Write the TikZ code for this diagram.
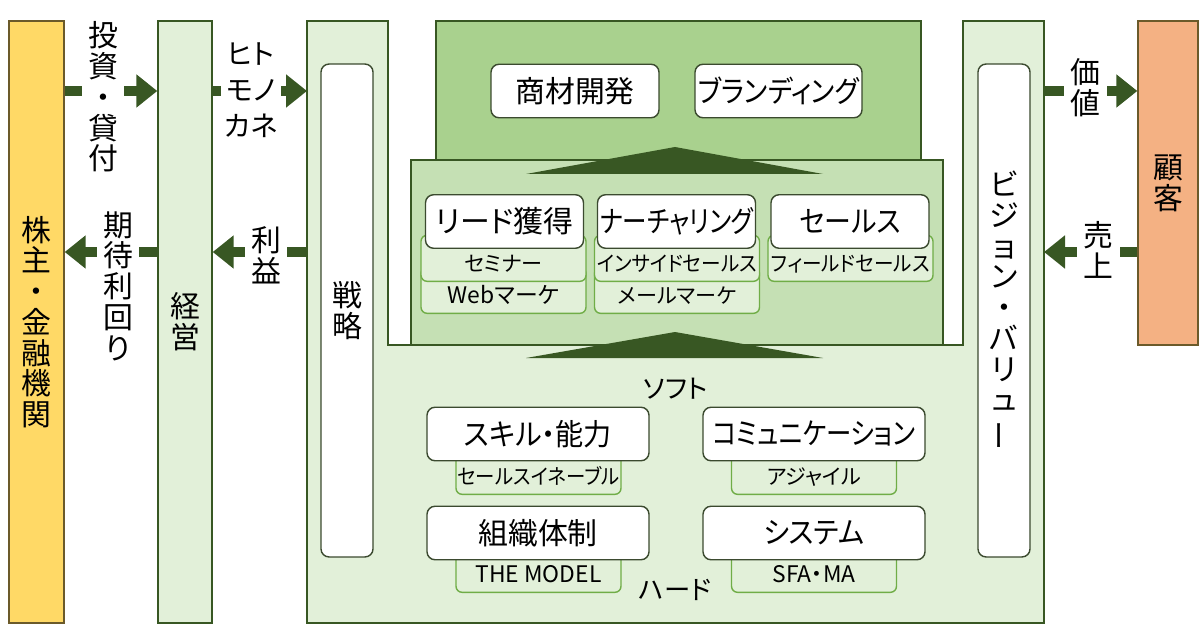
\documentclass[tikz,border=0pt]{standalone}
\usepackage{fontspec}
\setmainfont{Noto Sans CJK JP}[RawFeature=+palt]
\usepackage{graphicx}
\usepackage{tikz}
\usetikzlibrary{arrows.meta}

\definecolor{dkgreen}{HTML}{385723}
\definecolor{ltgreen}{HTML}{E2F0D9}
\definecolor{mdgreen}{HTML}{C5E0B4}
\definecolor{tpgreen}{HTML}{A9D18E}
\definecolor{subline}{HTML}{70AD47}
\definecolor{gold}{HTML}{FFD966}
\definecolor{peach}{HTML}{F4B183}
\definecolor{brownline}{HTML}{6B5A2A}
\definecolor{boxline}{HTML}{3B4A2F}

\newcommand{\bigjp}{\fontsize{17pt}{17.5pt}\selectfont}
\newcommand{\kanajp}{\fontsize{16pt}{20.4pt}\selectfont}
\newcommand{\midjp}{\fontsize{17pt}{18pt}\selectfont}
\newcommand{\smalljp}{\fontsize{12pt}{14pt}\selectfont}
\newcommand{\latinjp}{\fontsize{13pt}{15pt}\selectfont}
\newcommand{\narrowjp}[2]{\scalebox{#1}[1]{#2}}

\begin{document}
\begin{tikzpicture}[x=0.02cm, y=-0.02cm,
  bar/.style={draw=dkgreen, line width=0.8pt, inner sep=0pt, align=center, font=\bigjp},
  pill/.style={draw=boxline, fill=white, line width=0.8pt, rounded corners=0.16cm,
    minimum width=1.04cm, minimum height=9.86cm, inner sep=0pt, align=center, font=\bigjp},
  card/.style={draw=boxline, fill=white, line width=0.8pt, rounded corners=0.16cm,
    minimum height=1.07cm, inner sep=0pt, font=\midjp},
  sub/.style={draw=subline, fill=ltgreen, line width=0.8pt, rounded corners=0.12cm,
    minimum width=3.3cm, anchor=south, inner sep=0pt, text height=0.73cm, text depth=0.19cm, font=\smalljp},
  flow/.style={draw=dkgreen, line width=0.2cm, -{Triangle[length=0.42cm,width=0.64cm]}},
  lbl/.style={fill=white, inner sep=0pt, minimum width=0.86cm, align=center, font=\bigjp},
  tag/.style={inner sep=0pt, font=\fontsize{15pt}{17pt}\selectfont}]
\useasboundingbox (0,0) rectangle (1200,628);

% U-shaped body
\draw[dkgreen, fill=ltgreen, line width=0.8pt] (307,21) -- (388,21) -- (388,345) -- (963,345)
  -- (963,21) -- (1044,21) -- (1044,623) -- (307,623) -- cycle;
\coordinate (uL) at (307,21);
\coordinate (uR) at (1044,21);
\draw[dkgreen, fill=tpgreen, line width=0.8pt] (436,21) rectangle (921,160);
\draw[dkgreen, fill=mdgreen, line width=0.8pt] (411,160) rectangle (943,345);
\fill[dkgreen] (526,174) -- (675,147) -- (823,174) -- cycle;
\fill[dkgreen] (526,358) -- (675,332) -- (823,358) -- cycle;

\node[card, minimum width=3.36cm] (shouzai) at (575,91) {商材開発};
\node[card, minimum width=3.34cm] (brand) at (778.5,91) {\narrowjp{0.89}{ブランディング}};

\node[sub, font=\latinjp] (web) at (503.5,314) {Webマーケ};
\node[sub] (mail) at (677,314) {メールマーケ};
\node[sub] (seminar) at (503.5,282) {セミナー};
\node[sub] (inside) at (677,282) {\narrowjp{0.93}{インサイドセールス}};
\node[sub] (field) at (850.5,282) {\narrowjp{0.93}{フィールドセールス}};
\node[card, minimum width=3.16cm] (lead) at (504.5,221.5) {リード獲得};
\node[card, minimum width=3.16cm] (nurture) at (676.5,221.5) {\narrowjp{0.82}{ナーチャリング}};
\node[card, minimum width=3.16cm] (sales) at (850,221.5) {\narrowjp{0.9}{セールス}};

\node[tag] (soft) at (675.5,389) {ソフト};
\node[sub] (enable) at (538.5,495) {\narrowjp{0.92}{セールスイネーブル}};
\node[sub] (agile) at (814,495) {アジャイル};
\node[sub, font=\latinjp] (model) at (538.5,593) {THE MODEL};
\node[sub, font=\latinjp] (sfa) at (814,593) {SFA・MA};
\node[card, minimum width=4.44cm] (skill) at (538,434) {\narrowjp{0.94}{スキル・能力}};
\node[card, minimum width=4.44cm] (comm) at (814,434) {\narrowjp{0.85}{コミュニケーション}};
\node[card, minimum width=4.44cm] (org) at (538,533) {組織体制};
\node[card, minimum width=4.44cm] (system) at (814,533) {\narrowjp{0.93}{システム}};
\node[tag] (hard) at (675,590) {ハード};

\node[pill] (senryaku) at (347,310.5) {戦\\略};
\node[pill] (vision) at (1004,310.5) {ビ\\ジ\\ョ\\ン\\・\\バ\\リ\\ュ\\\rotatebox[origin=c]{90}{ー}};

% bars
\node[bar, draw=brownline, fill=gold, minimum width=1.1cm, minimum height=12.04cm] (kabu) at (36.5,322) {株\\主\\・\\金\\融\\機\\関};
\node[bar, fill=ltgreen, minimum width=1.08cm, minimum height=12.04cm] (keiei) at (185,322) {経\\営};
\node[bar, draw=brownline, fill=peach, minimum width=1.2cm, minimum height=6.48cm] (kokyaku) at (1168,183) {顧\\客};

% flows
\coordinate (hi) at (0,91);
\coordinate (lo) at (0,252);
\draw[flow] (kabu.east |- hi) -- (keiei.west |- hi);
\draw[flow] (keiei.east |- hi) -- (uL |- hi);
\draw[flow] (uR |- hi) -- (kokyaku.west |- hi);
\draw[flow] (keiei.west |- lo) -- (kabu.east |- lo);
\draw[flow] (uL |- lo) -- (keiei.east |- lo);
\draw[flow] (kokyaku.west |- lo) -- (uR |- lo);

\node[lbl] (toushi) at (103,97) {投\\資\\・\\貸\\付};
\node[lbl, inner xsep=2pt, font=\kanajp] (hito) at (251,90) {ヒト\\モノ\\カネ};
\node[lbl] (kitai) at (118,286) {期\\待\\利\\回\\り};
\node[lbl] (rieki) at (266,255) {利\\益};
\node[lbl] (kachi) at (1085,88) {価\\値};
\node[lbl] (uriage) at (1098,250) {売\\上};
\end{tikzpicture}
\end{document}
